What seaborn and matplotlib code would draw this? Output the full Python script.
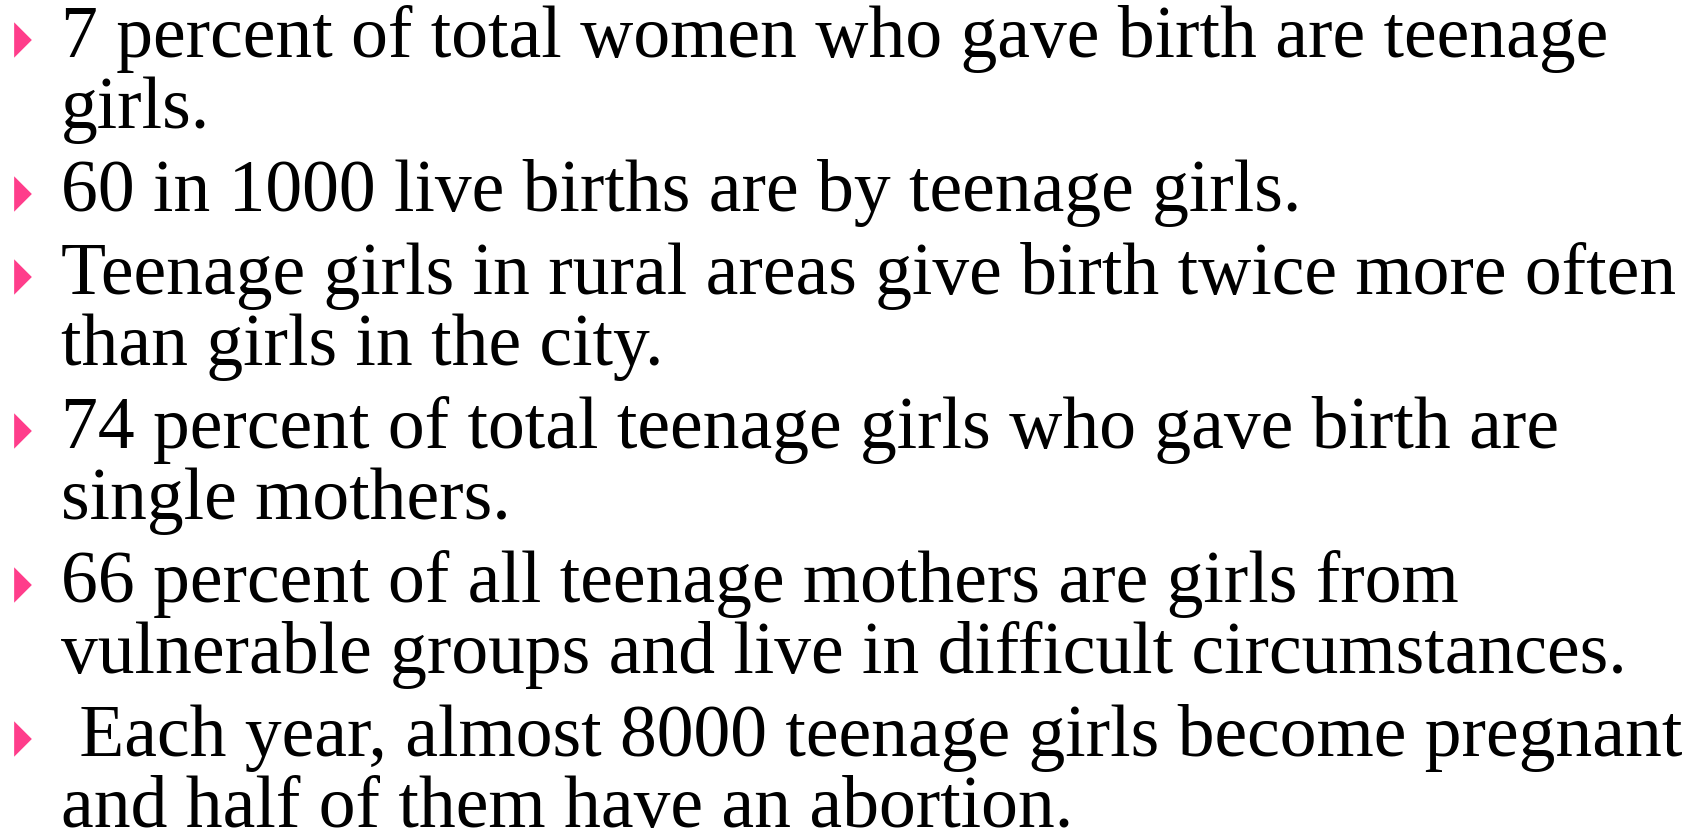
import matplotlib
matplotlib.use("Agg")
import matplotlib.pyplot as plt
import seaborn as sns
import pandas as pd

# bullet items, already wrapped the way the slide wraps them
bullets = [
    ["7 percent of total women who gave birth are teenage", "girls."],
    ["60 in 1000 live births are by teenage girls."],
    ["Teenage girls in rural areas give birth twice more often", "than girls in the city."],
    ["74 percent of total teenage girls who gave birth are", "single mothers."],
    ["66 percent of all teenage mothers are girls from", "vulnerable groups and live in difficult circumstances."],
    [" Each year, almost 8000 teenage girls become pregnant", "and half of them have an abortion."],
]

sns.set_theme(style="white")
plt.rcParams['font.family'] = ['Liberation Serif', 'DejaVu Serif']

W, H = 1694, 833
fig = plt.figure(figsize=(W / 100, H / 100), dpi=100)
ax = fig.add_axes([0, 0, 1, 1])
ax.set_xlim(0, W)
ax.set_ylim(H, 0)
ax.axis("off")

first_base = 57
line_gap = 71
item_gap = 83
text_x = 61

rows = []
y = first_base
for i, item in enumerate(bullets):
    rows.append({"x": 23, "y": y - 17})
    for j, line in enumerate(item):
        ax.text(text_x, y, line, fontsize=53, color="black",
                va="baseline", ha="left")
        if j < len(item) - 1:
            y += line_gap
    y += item_gap

bullet_df = pd.DataFrame(rows)
tri = [(-0.5, -1.0), (-0.5, 1.0), (0.5, 0.0), (-0.5, -1.0)]
sns.scatterplot(data=bullet_df, x="x", y="y", marker=tri, s=650,
                color="#ff3d8b", edgecolor="none", linewidth=0, ax=ax, legend=False)

fig.savefig("out.png", dpi=100, facecolor="white")
